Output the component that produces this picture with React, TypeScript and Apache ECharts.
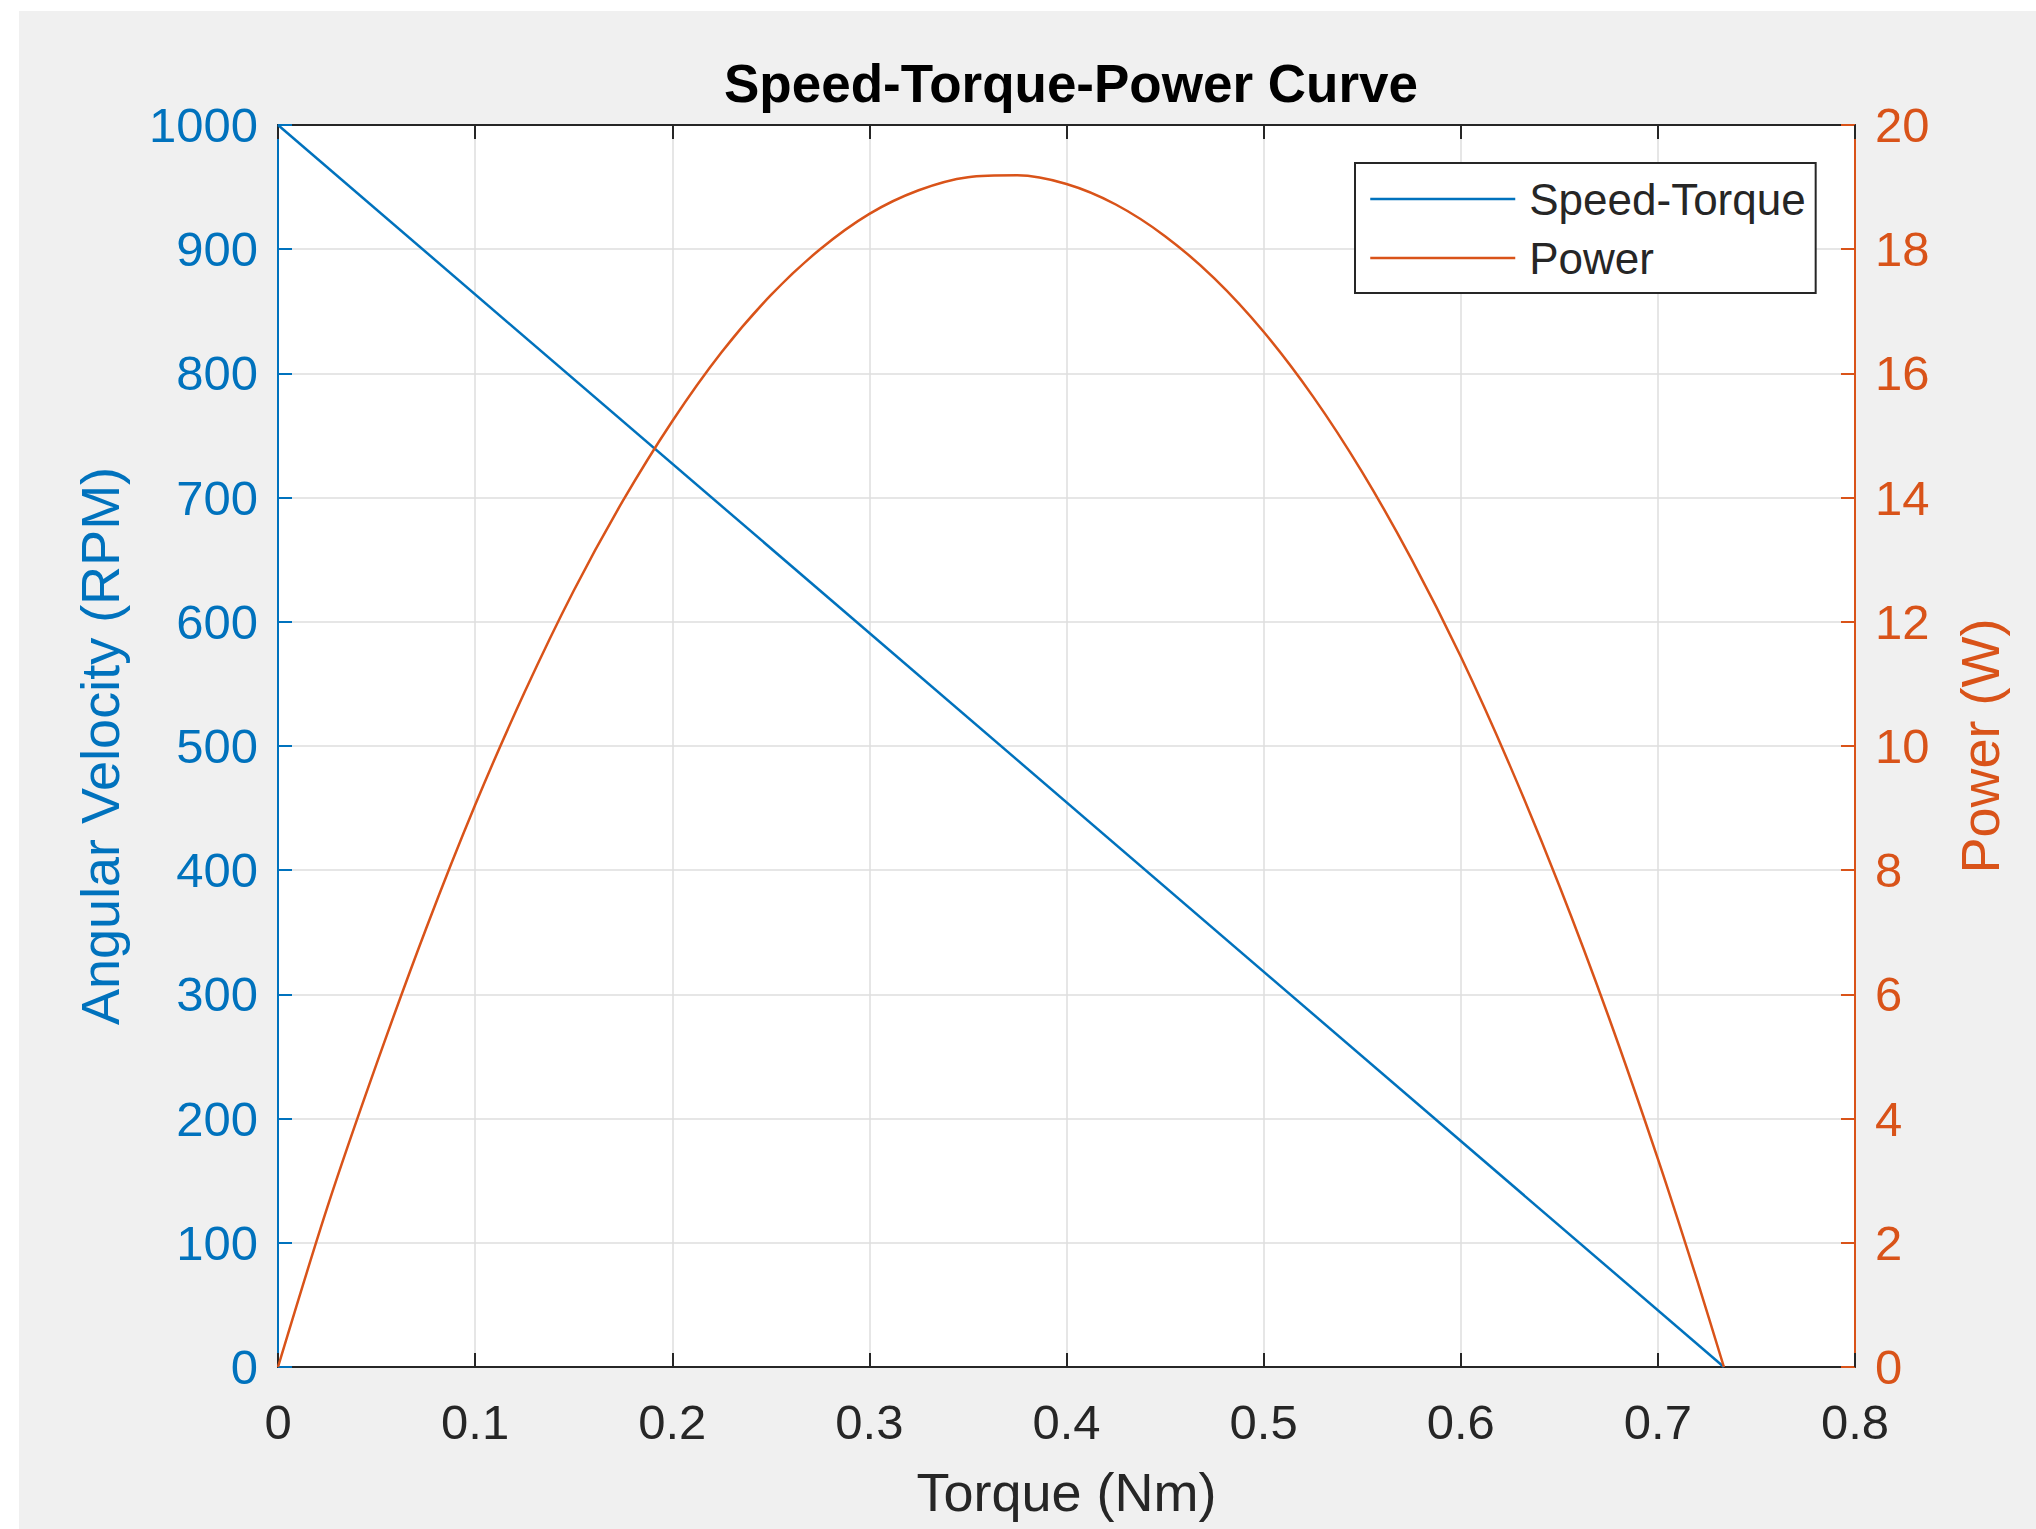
import React, { useEffect, useRef } from "react";
import * as echarts from "echarts";

const torqueSpeed: number[] = [0, 0.7335];
const speedRPM: number[] = [1000, 0];

const torquePower: number[] = [
  0, 0.025, 0.05, 0.075, 0.1, 0.125, 0.15, 0.175, 0.2, 0.225, 0.25, 0.275, 0.3,
  0.325, 0.35, 0.375, 0.4, 0.425, 0.45, 0.475, 0.5, 0.525, 0.55, 0.575,
  0.6, 0.625, 0.65, 0.675, 0.7, 0.72, 0.7335,
];
const powerW: number[] = [
  0, 2.57, 4.88, 7.05, 9.05, 10.86, 12.5, 13.95, 15.23, 16.34, 17.26, 18.0, 18.57,
  18.95, 19.16, 19.19, 19.05, 18.72, 18.21, 17.53, 16.67, 15.63, 14.41, 13.01,
  11.44, 9.68, 7.75, 5.64, 3.35, 1.39, 0,
];

const xTicks = { min: 0, max: 0.8, interval: 0.1 };
const yLeftTicks = { min: 0, max: 1000, interval: 100 };
const yRightTicks = { min: 0, max: 20, interval: 2 };

const BLUE = "#0072BD";
const ORANGE = "#D95319";
const DARK = "#262626";
const FONT = "Liberation Sans";

export default function App() {
  const ref = useRef<HTMLDivElement>(null);
  useEffect(() => {
    if (!ref.current) return;
    const chart = echarts.init(ref.current, undefined, { renderer: "svg" });
    const speedData = torqueSpeed.map((t, i) => [t, speedRPM[i]]);
    const powerData = torquePower.map((t, i) => [t, powerW[i]]);
    const fmt = (v: number) => String(+v.toFixed(2));
    chart.setOption({
      animation: false,
      backgroundColor: "#ffffff",
      textStyle: { fontFamily: FONT },
      graphic: [
        {
          type: "rect",
          z: -10,
          silent: true,
          shape: { x: 19, y: 11, width: 2036 - 19, height: 1529 - 11 },
          style: { fill: "#f0f0f0" },
        },
      ],
      title: {
        text: "Speed-Torque-Power Curve",
        left: 1066,
        top: 52,
        textAlign: "center",
        textStyle: { fontFamily: FONT, fontWeight: "bold", fontSize: 53, color: "#000" },
      },
      legend: {
        orient: "vertical",
        left: 1355,
        top: 163,
        align: "left",
        padding: [14, 10, 13, 14],
        itemWidth: 145,
        itemHeight: 42,
        itemGap: 15,
        borderColor: DARK,
        borderWidth: 2,
        backgroundColor: "#ffffff",
        itemStyle: { opacity: 0 },
        lineStyle: { width: 2.5 },
        textStyle: { fontFamily: FONT, fontSize: 44, color: DARK, padding: [0, 0, 0, 9], lineHeight: 44 },
        data: ["Speed-Torque", "Power"],
      },
      grid: {
        left: 278,
        top: 125,
        right: 2036 - 1855,
        bottom: 1529 - 1367,
        show: true,
        backgroundColor: "#ffffff",
        borderColor: DARK,
        borderWidth: 2,
      },
      xAxis: [
        {
          type: "value",
          ...xTicks,
          position: "bottom",
          name: "Torque (Nm)",
          nameLocation: "middle",
          nameGap: 98,
          nameTextStyle: { fontFamily: FONT, fontSize: 54, color: DARK },
          axisLine: { show: true, onZero: false, lineStyle: { color: DARK, width: 2 } },
          axisTick: { show: true, inside: true, length: 14, lineStyle: { color: DARK, width: 2 } },
          axisLabel: { margin: 30, fontFamily: FONT, fontSize: 49, color: DARK, formatter: fmt },
          splitLine: { show: true, lineStyle: { color: "#dedede", width: 1.5 } },
        },
        {
          type: "value",
          ...xTicks,
          position: "top",
          axisLine: { show: true, onZero: false, lineStyle: { color: DARK, width: 2 } },
          axisTick: { show: true, inside: true, length: 14, lineStyle: { color: DARK, width: 2 } },
          axisLabel: { show: false },
          splitLine: { show: false },
        },
      ],
      yAxis: [
        {
          type: "value",
          ...yLeftTicks,
          position: "left",
          name: "Angular Velocity (RPM)",
          nameLocation: "middle",
          nameGap: 151,
          nameTextStyle: { fontFamily: FONT, fontSize: 54, color: BLUE },
          axisLine: { show: true, onZero: false, lineStyle: { color: BLUE, width: 2 } },
          axisTick: { show: true, inside: true, length: 14, lineStyle: { color: BLUE, width: 2 } },
          axisLabel: { margin: 20, fontFamily: FONT, fontSize: 49, color: BLUE, formatter: fmt },
          splitLine: { show: true, lineStyle: { color: "#dedede", width: 1.5 } },
        },
        {
          type: "value",
          ...yRightTicks,
          position: "right",
          name: "Power (W)",
          nameLocation: "middle",
          nameGap: 98,
          nameTextStyle: { fontFamily: FONT, fontSize: 54, color: ORANGE },
          axisLine: { show: true, onZero: false, lineStyle: { color: ORANGE, width: 2 } },
          axisTick: { show: true, inside: true, length: 14, lineStyle: { color: ORANGE, width: 2 } },
          axisLabel: { margin: 20, fontFamily: FONT, fontSize: 49, color: ORANGE, formatter: fmt },
          splitLine: { show: false },
        },
      ],
      series: [
        {
          name: "Speed-Torque",
          type: "line",
          xAxisIndex: 0,
          yAxisIndex: 0,
          data: speedData,
          symbol: "none",
          lineStyle: { color: BLUE, width: 2.5 },
          itemStyle: { color: BLUE },
          z: 3,
        },
        {
          name: "Power",
          type: "line",
          xAxisIndex: 0,
          yAxisIndex: 1,
          data: powerData,
          symbol: "none",
          smooth: 0.3,
          lineStyle: { color: ORANGE, width: 2.5 },
          itemStyle: { color: ORANGE },
          z: 3,
        },
      ],
    });
    return () => chart.dispose();
  }, []);
  return (
    <div
      ref={ref}
      style={{ position: "absolute", left: 0, top: 0, width: 2036, height: 1529 }}
    />
  );
}
